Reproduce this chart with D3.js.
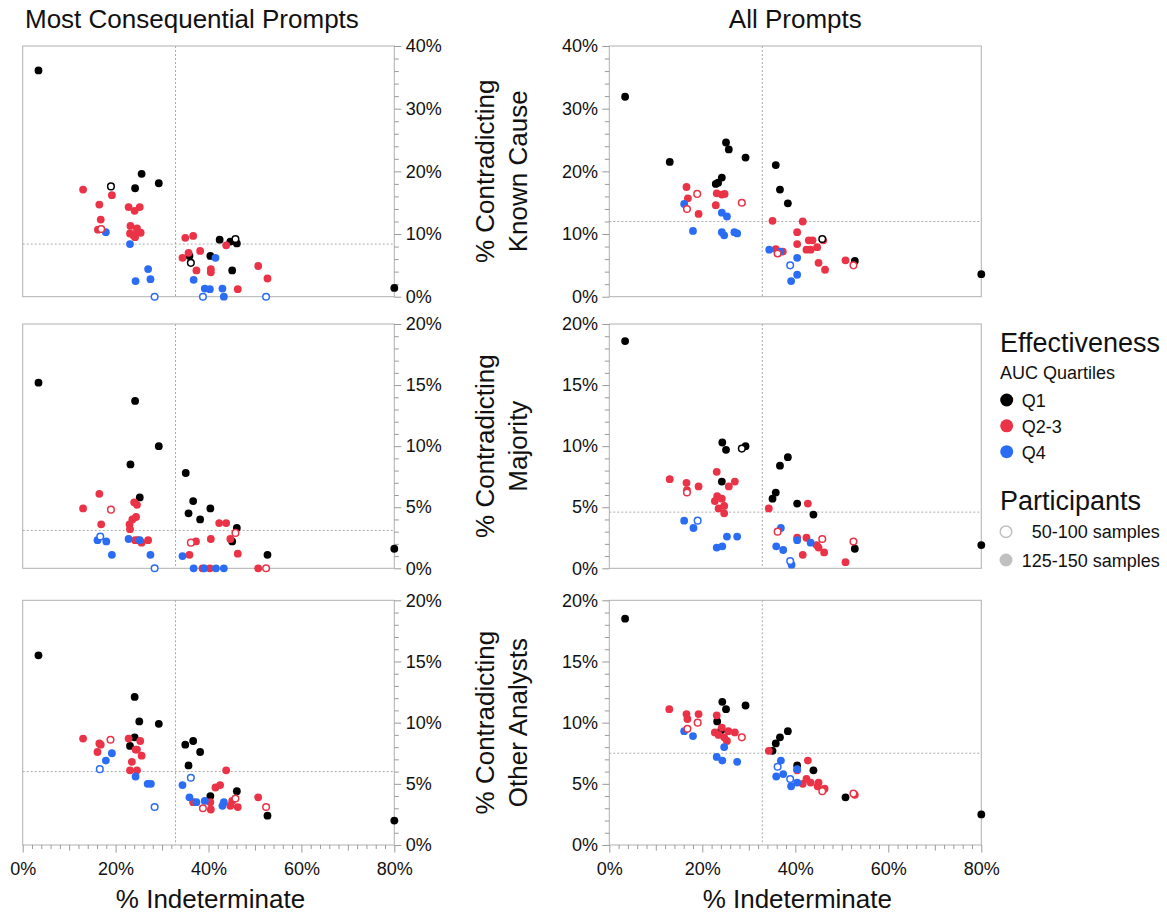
<!DOCTYPE html>
<html>
<head>
<meta charset="utf-8">
<script src="https://cdn.jsdelivr.net/npm/d3@7"></script>
<style>
  html, body { margin: 0; padding: 0; background: #fff; }
  svg text { font-family: "Liberation Sans", Arial, Helvetica, sans-serif; fill: #111; }
</style>
</head>
<body>
<div id="vis"></div>
<script>
// legend categories
var quartiles = ["Q1", "Q2-3", "Q4"];
var participants = ["50-100 samples", "125-150 samples"];
var colTitles = ["Most Consequential Prompts", "All Prompts"];
var rowTitles = [["% Contradicting", "Known Cause"], ["% Contradicting", "Majority"], ["% Contradicting", "Other Analysts"]];
var xTitle = "% Indeterminate";

// axis ticks (percent)
var xMajor = [0, 20, 40, 60, 80];
var yMax = [40, 20, 20];
var yMajor = [[0, 10, 20, 30, 40], [0, 5, 10, 15, 20], [0, 5, 10, 15, 20]];

// dotted reference lines (averages)
var refXMost = 32.9, refXAll = 32.9;
var refYMost = [8.4, 3.1, 6.0];
var refYAll = [12.0, 4.6, 7.5];

// points: [% indeterminate, % contradicting, quartile index, participants index]
var kcMost = [
  [3.4,36.1,0,1],[25.6,19.6,0,1],[24.2,17.3,0,1],[29.3,18.1,0,1],[42.4,9.1,0,1],[44.7,8.8,0,1],[46.1,8.5,0,1],
  [35.9,6.5,0,1],[40.4,6.5,0,1],[45.1,4.2,0,1],[80,1.4,0,1],
  [19.0,17.6,0,0],[45.8,9.2,0,0],[36.2,5.4,0,0],
  [13.0,17.1,1,1],[19.2,16.2,1,1],[16.5,14.7,1,1],[16.8,12.3,1,1],[16.2,10.7,1,1],[22.8,14.3,1,1],[24.1,13.7,1,1],
  [25.2,14.3,1,1],[23.2,11.3,1,1],[24.6,10.9,1,1],[23.1,10.1,1,1],[23.8,9.8,1,1],[24.6,10.3,1,1],[25.4,10.2,1,1],
  [24.2,9.5,1,1],[35.0,9.4,1,1],[36.7,9.7,1,1],[35.7,7.0,1,1],[38.2,7.3,1,1],[34.4,6.2,1,1],[43.8,8.2,1,1],
  [37.4,4.2,1,1],[40.5,4.4,1,1],[40.5,3.9,1,1],[50.7,4.9,1,1],[52.7,2.9,1,1],[46.3,1.2,1,1],
  [16.9,10.8,1,0],
  [17.9,10.3,2,1],[23.1,8.4,2,1],[27.0,4.4,2,1],[27.5,2.8,2,1],[24.3,2.5,2,1],[36.8,2.7,2,1],[41.5,6.2,2,1],
  [39.2,1.3,2,1],[40.3,1.2,2,1],[43.0,1.3,2,1],[43.3,0,2,1],
  [28.4,0,2,0],[38.8,0,2,0],[52.4,0,2,0]
];
var kcAll = [
  [3.4,31.9,0,1],[13.0,21.5,0,1],[25.1,24.6,0,1],[25.7,23.5,0,1],[29.3,22.2,0,1],[24.2,19.0,0,1],[23.4,18.2,0,1],
  [22.9,18.0,0,1],[35.8,21.0,0,1],[36.7,17.1,0,1],[38.4,14.9,0,1],[52.8,5.7,0,1],[80,3.6,0,1],
  [45.8,9.2,0,0],
  [16.6,17.5,1,1],[16.9,15.7,1,1],[19.2,13.2,1,1],[23.1,16.5,1,1],[24.2,16.3,1,1],[24.8,16.4,1,1],[22.9,14.6,1,1],
  [35.1,12.1,1,1],[41.6,12.0,1,1],[40.4,10.3,1,1],[40.4,8.4,1,1],[42.9,9.0,1,1],[43.7,9.0,1,1],[46.0,9.0,1,1],
  [44.7,7.9,1,1],[42.4,7.5,1,1],[43.3,7.5,1,1],[35.8,7.6,1,1],[37.3,7.2,1,1],[45.0,5.4,1,1],[46.4,4.3,1,1],
  [50.8,5.8,1,1],
  [18.9,16.4,1,0],[16.7,14.0,1,0],[28.5,15.0,1,0],[36.2,6.9,1,0],[52.5,5.0,1,0],
  [16.1,14.8,2,1],[18.0,10.5,2,1],[24.2,13.4,2,1],[25.3,12.8,2,1],[24.2,10.3,2,1],[24.7,9.8,2,1],[26.9,10.3,2,1],
  [27.5,10.1,2,1],[34.4,7.5,2,1],[36.8,7.2,2,1],[40.4,6.2,2,1],[40.4,3.5,2,1],[39.1,2.5,2,1],
  [38.9,5.0,2,0]
];
var majMost = [
  [3.4,15.2,0,1],[24.2,13.7,0,1],[29.3,10.0,0,1],[23.2,8.5,0,1],[25.2,5.8,0,1],[35.1,7.8,0,1],[36.7,5.5,0,1],
  [35.7,4.5,0,1],[38.2,4.0,0,1],[40.4,4.9,0,1],[46.1,3.3,0,1],[45.1,2.2,0,1],[52.7,1.1,0,1],[80,1.6,0,1],
  [13.0,4.9,1,1],[16.5,6.1,1,1],[16.9,3.6,1,1],[24.0,5.4,1,1],[24.6,5.2,1,1],[23.6,4.0,1,1],[24.4,4.2,1,1],
  [23.0,3.6,1,1],[23.1,3.2,1,1],[24.2,2.3,1,1],[24.8,2.3,1,1],[25.6,2.1,1,1],[27.0,2.3,1,1],[37.3,2.2,1,1],
  [35.9,1.1,1,1],[40.5,2.4,1,1],[42.3,3.7,1,1],[43.8,3.7,1,1],[44.7,2.4,1,1],[46.3,1.2,1,1],[38.7,0,1,1],
  [40.3,0,1,1],[50.7,0,1,1],
  [19.0,4.8,1,0],[36.2,2.1,1,0],[45.8,2.9,1,0],[52.4,0,1,0],
  [16.1,2.3,2,1],[18.0,2.2,2,1],[19.2,1.1,2,1],[22.8,2.4,2,1],[25.2,2.3,2,1],[27.5,1.1,2,1],[34.4,1.0,2,1],
  [36.8,0,2,1],[39.1,0,2,1],[41.6,0,2,1],[43.3,0,2,1],
  [16.7,2.6,2,0],[28.4,0,2,0]
];
var majAll = [
  [3.4,18.6,0,1],[24.3,10.3,0,1],[25.1,9.7,0,1],[29.3,10.0,0,1],[24.2,7.1,0,1],[38.4,9.1,0,1],[36.7,8.4,0,1],
  [35.8,6.2,0,1],[35.1,5.7,0,1],[40.4,5.3,0,1],[43.9,4.4,0,1],[52.8,1.6,0,1],[80,1.9,0,1],
  [28.5,9.8,0,0],
  [13.0,7.3,1,1],[16.6,7.0,1,1],[16.7,6.4,1,1],[19.2,6.7,1,1],[23.1,7.9,1,1],[27.0,7.1,1,1],[25.7,6.7,1,1],
  [23.2,5.9,1,1],[24.2,5.7,1,1],[22.7,5.5,1,1],[24.7,5.1,1,1],[23.5,4.9,1,1],[24.7,4.5,1,1],[34.3,4.9,1,1],
  [42.7,5.3,1,1],[40.4,2.5,1,1],[42.4,2.5,1,1],[45.0,1.7,1,1],[46.2,1.3,1,1],[41.6,1.1,1,1],[50.8,0.5,1,1],
  [44.6,1.9,1,1],
  [16.7,6.2,1,0],[36.2,3.0,1,0],[45.8,2.4,1,0],[52.5,2.2,1,0],
  [16.1,3.9,2,1],[18.1,3.3,2,1],[25.3,2.6,2,1],[27.5,2.6,2,1],[23.1,1.7,2,1],[24.3,1.8,2,1],[36.9,3.3,2,1],
  [35.9,1.8,2,1],[37.4,1.5,2,1],[40.4,2.3,2,1],[43.3,2.1,2,1],[39.2,0.3,2,1],
  [19.0,3.9,2,0],[38.9,0.6,2,0]
];
var oaMost = [
  [3.4,15.5,0,1],[24.1,12.1,0,1],[25.1,10.1,0,1],[29.3,9.9,0,1],[24.1,8.8,0,1],[23.1,8.1,0,1],[35.0,8.2,0,1],
  [36.7,8.5,0,1],[38.2,7.6,0,1],[35.7,6.5,0,1],[40.4,4.0,0,1],[46.1,4.4,0,1],[52.7,2.4,0,1],[80,2.0,0,1],
  [13.0,8.7,1,1],[16.5,8.3,1,1],[16.8,8.2,1,1],[16.1,7.6,1,1],[22.8,8.7,1,1],[25.3,8.5,1,1],[24.3,7.8,1,1],
  [24.6,7.8,1,1],[25.6,7.3,1,1],[23.5,6.8,1,1],[23.1,6.1,1,1],[24.6,6.1,1,1],[36.7,3.5,1,1],[40.4,3.5,1,1],
  [40.5,2.9,1,1],[41.5,4.7,1,1],[42.5,4.9,1,1],[43.8,6.1,1,1],[44.7,3.2,1,1],[45.1,3.6,1,1],[46.3,3.1,1,1],
  [50.7,3.9,1,1],
  [18.9,8.6,1,0],[38.8,3.0,1,0],[45.8,3.8,1,0],[52.4,3.1,1,0],
  [17.9,6.9,2,1],[19.2,7.5,2,1],[24.3,5.6,2,1],[26.9,5.0,2,1],[27.6,5.0,2,1],[34.4,4.9,2,1],[35.9,3.9,2,1],
  [37.4,3.5,2,1],[39.2,3.6,2,1],[43.0,3.2,2,1],[43.3,3.5,2,1],
  [16.6,6.2,2,0],[36.2,5.5,2,0],[28.4,3.1,2,0]
];
var oaAll = [
  [3.4,18.5,0,1],[24.3,11.7,0,1],[25.1,11.1,0,1],[29.3,11.4,0,1],[23.2,10.1,0,1],[24.1,9.4,0,1],[38.4,9.3,0,1],
  [36.7,8.8,0,1],[35.8,8.3,0,1],[35.1,7.7,0,1],[40.4,6.5,0,1],[43.9,6.1,0,1],[50.8,3.9,0,1],[80,2.5,0,1],
  [12.9,11.1,1,1],[16.6,10.7,1,1],[16.8,10.3,1,1],[19.2,10.7,1,1],[23.1,10.6,1,1],[24.2,9.6,1,1],[22.7,9.2,1,1],
  [23.5,9.0,1,1],[25.6,9.3,1,1],[27.0,9.2,1,1],[24.7,8.8,1,1],[25.3,8.5,1,1],[34.3,7.7,1,1],[42.7,6.9,1,1],
  [40.4,6.1,1,1],[41.6,5.0,1,1],[42.4,5.4,1,1],[43.3,5.1,1,1],[45.0,5.1,1,1],[44.8,4.8,1,1],[46.3,4.6,1,1],
  [52.8,4.1,1,1],
  [16.8,9.5,1,0],[19.0,10.0,1,0],[28.5,8.8,1,0],[45.8,4.4,1,0],[52.5,4.2,1,0],
  [16.1,9.3,2,1],[18.0,8.9,2,1],[24.7,8.0,2,1],[23.1,7.2,2,1],[24.3,6.9,2,1],[27.5,6.8,2,1],[36.9,6.9,2,1],
  [35.9,5.6,2,1],[37.4,5.8,2,1],[40.4,6.2,2,1],[40.4,5.1,2,1],[39.1,4.8,2,1],
  [36.2,6.4,2,0],[38.9,5.4,2,0]
];

var colors = ["#000000", "#ea3347", "#2b6cf5"];

// layout
var colX = [[22.7, 394.3], [609.3, 981.3]];
var rowY = [[46, 296.7], [324, 568.3], [600.3, 845]];

var svg = d3.select("#vis").append("svg")
    .attr("width", 1167)
    .attr("height", 913);

var panels = [
    { row: 0, col: 0, data: kcMost, rx: refXMost, ry: refYMost[0] },
    { row: 0, col: 1, data: kcAll, rx: refXAll, ry: refYAll[0] },
    { row: 1, col: 0, data: majMost, rx: refXMost, ry: refYMost[1] },
    { row: 1, col: 1, data: majAll, rx: refXAll, ry: refYAll[1] },
    { row: 2, col: 0, data: oaMost, rx: refXMost, ry: refYMost[2] },
    { row: 2, col: 1, data: oaAll, rx: refXAll, ry: refYAll[2] }
];

function styleAxis(sel) {
    sel.select(".domain").remove();
    sel.selectAll(".tick line").attr("stroke", "#9a9a9a");
    sel.selectAll(".tick text").style("font-size", "18px").attr("fill", "#111");
}

panels.forEach(function (p) {
    var x = d3.scaleLinear().domain([0, 80]).range(colX[p.col]);
    var y = d3.scaleLinear().domain([0, yMax[p.row]]).range([rowY[p.row][1], rowY[p.row][0]]);
    var g = svg.append("g");
    var x0 = colX[p.col][0], x1 = colX[p.col][1];
    var y0 = rowY[p.row][0], y1 = rowY[p.row][1];

    // reference lines
    g.append("line")
        .attr("x1", x(p.rx)).attr("x2", x(p.rx))
        .attr("y1", y0).attr("y2", y1)
        .attr("stroke", "#aaa").attr("stroke-dasharray", "2,2");
    g.append("line")
        .attr("x1", x0).attr("x2", x1)
        .attr("y1", y(p.ry)).attr("y2", y(p.ry))
        .attr("stroke", "#aaa").attr("stroke-dasharray", "2,2");

    // frame
    g.append("rect")
        .attr("x", x0).attr("y", y0)
        .attr("width", x1 - x0).attr("height", y1 - y0)
        .attr("fill", "none").attr("stroke", "#b0b0b0");

    // y axis
    var step = yMax[p.row] / 20;
    var yMinor = d3.range(0, yMax[p.row] + 0.001, step).filter(function (v) {
        return yMajor[p.row].indexOf(Math.round(v * 10) / 10) < 0;
    });
    var mk = p.col === 0 ? d3.axisRight : d3.axisLeft;
    var ax = p.col === 0 ? x1 : x0;
    g.append("g")
        .attr("transform", "translate(" + ax + ",0)")
        .call(mk(y).tickValues(yMinor).tickSize(4.5).tickFormat(""))
        .call(styleAxis);
    g.append("g")
        .attr("transform", "translate(" + ax + ",0)")
        .call(mk(y).tickValues(yMajor[p.row]).tickSize(7).tickPadding(p.col === 0 ? 4.5 : 4.3)
            .tickFormat(function (d) { return d + "%"; }))
        .call(styleAxis);

    // x axis on bottom row only
    if (p.row === 2) {
        var xMid = [10, 30, 50, 70];
        var xMinor = d3.range(0, 81, 2).filter(function (v) { return v % 10 !== 0; });
        g.append("g").attr("transform", "translate(0," + y1 + ")")
            .call(d3.axisBottom(x).tickValues(xMinor).tickSize(4).tickFormat(""))
            .call(styleAxis);
        g.append("g").attr("transform", "translate(0," + y1 + ")")
            .call(d3.axisBottom(x).tickValues(xMid).tickSize(5.5).tickFormat(""))
            .call(styleAxis);
        g.append("g").attr("transform", "translate(0," + y1 + ")")
            .call(d3.axisBottom(x).tickValues(xMajor).tickSize(7.5).tickPadding(10)
                .tickFormat(function (d) { return d + "%"; }))
            .call(styleAxis);
        g.append("text")
            .attr("x", (x0 + x1) / 2 + 2).attr("y", 908)
            .attr("text-anchor", "middle")
            .style("font-size", "26px")
            .text(xTitle);
    }

    // points: filled first, hollow on top
    g.selectAll("circle.big")
        .data(p.data.filter(function (d) { return d[3] === 1; }))
        .join("circle")
        .attr("class", "big")
        .attr("cx", function (d) { return x(d[0]); })
        .attr("cy", function (d) { return y(d[1]); })
        .attr("r", 3.9)
        .attr("fill", function (d) { return colors[d[2]]; });
    g.selectAll("circle.small")
        .data(p.data.filter(function (d) { return d[3] === 0; }))
        .join("circle")
        .attr("class", "small")
        .attr("cx", function (d) { return x(d[0]); })
        .attr("cy", function (d) { return y(d[1]); })
        .attr("r", 3.3)
        .attr("fill", "#fff")
        .attr("stroke", function (d) { return colors[d[2]]; })
        .attr("stroke-width", 1.5);
});

// column titles
svg.append("text").attr("x", 25).attr("y", 28)
    .style("font-size", "26px").text(colTitles[0]);
svg.append("text").attr("x", (colX[1][0] + colX[1][1]) / 2).attr("y", 28)
    .attr("text-anchor", "middle")
    .style("font-size", "26px").text(colTitles[1]);

// row titles (two lines, rotated)
rowTitles.forEach(function (t, i) {
    var cy = (rowY[i][0] + rowY[i][1]) / 2;
    var tx = svg.append("text")
        .attr("transform", "translate(510," + cy + ") rotate(-90)")
        .attr("text-anchor", "middle")
        .style("font-size", "26px");
    tx.append("tspan").attr("x", 0).attr("y", -16).text(t[0]);
    tx.append("tspan").attr("x", 0).attr("y", 17).text(t[1]);
});

// legend
var lg = svg.append("g");
lg.append("text").attr("x", 1000).attr("y", 352).style("font-size", "27px").text("Effectiveness");
lg.append("text").attr("x", 1000).attr("y", 379).style("font-size", "18px").text("AUC Quartiles");
var qY = d3.scalePoint().domain(quartiles).range([400, 451.7]);
quartiles.forEach(function (q, i) {
    lg.append("circle").attr("cx", 1006.7).attr("cy", qY(q)).attr("r", 6.5).attr("fill", colors[i]);
    lg.append("text").attr("x", 1021.7).attr("y", qY(q) + 7).style("font-size", "18px").text(q);
});
lg.append("text").attr("x", 1000).attr("y", 510).style("font-size", "27px").text("Participants");
lg.append("circle").attr("cx", 1006).attr("cy", 531.7).attr("r", 5.8)
    .attr("fill", "#fff").attr("stroke", "#c0c0c0").attr("stroke-width", 1.5);
lg.append("text").attr("x", 1031.7).attr("y", 538).style("font-size", "18px").text(participants[0]);
lg.append("circle").attr("cx", 1006).attr("cy", 560).attr("r", 6.5).attr("fill", "#c0c0c0");
lg.append("text").attr("x", 1021.7).attr("y", 567).style("font-size", "18px").text(participants[1]);
</script>
</body>
</html>
